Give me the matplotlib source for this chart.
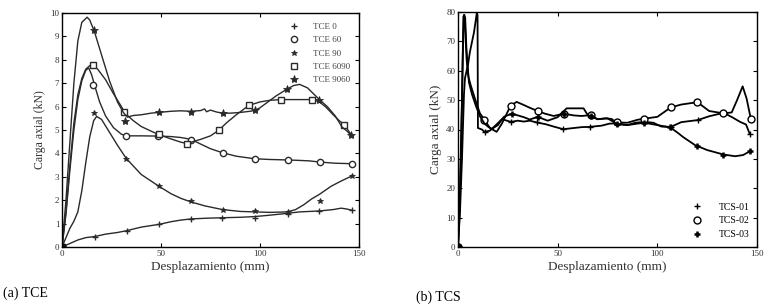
import numpy as np
import matplotlib
matplotlib.use("Agg")
import matplotlib.pyplot as plt
from matplotlib.lines import Line2D

plt.rcParams['font.family'] = ['Liberation Serif', 'DejaVu Serif']

# ---- (a) TCE : curves (x mm, y kN) ----
tce0_x = [0, 4, 8, 12, 16.7, 22, 28, 32.8, 40, 49.2, 55, 60, 65.2, 73, 81, 90, 97.3, 105, 113.9, 120, 130, 137, 141, 144, 146.4]
tce0_y = [0, 0.15, 0.3, 0.4, 0.45, 0.55, 0.62, 0.7, 0.85, 0.97, 1.08, 1.15, 1.2, 1.23, 1.25, 1.27, 1.3, 1.36, 1.44, 1.5, 1.54, 1.6, 1.66, 1.62, 1.57]
tce0_mx = [0, 16.7, 32.8, 49.2, 65.2, 81, 97.3, 113.9, 130, 146.4]
tce0_my = [0, 0.43, 0.67, 0.97, 1.2, 1.25, 1.25, 1.42, 1.54, 1.57]

tce60_x = [0, 2, 4, 6, 8, 10, 12, 13.5, 15, 16.5, 19, 22, 26, 30, 32.4, 40, 48.5, 55, 60, 65.2, 70, 75, 81, 88, 97.5, 105, 113.9, 120, 125, 130.2, 138, 146.5]
tce60_y = [0, 1.4, 3.3, 5.0, 6.3, 7.1, 7.55, 7.65, 7.35, 6.9, 6.2, 5.6, 5.1, 4.82, 4.75, 4.75, 4.74, 4.72, 4.68, 4.6, 4.4, 4.2, 4.03, 3.88, 3.77, 3.74, 3.72, 3.7, 3.68, 3.63, 3.58, 3.56]
tce60_mx = [0, 15.9, 32.4, 48.5, 65.2, 81.4, 97.5, 113.9, 130.2, 146.5]
tce60_my = [0, 6.94, 4.74, 4.74, 4.59, 4.03, 3.77, 3.72, 3.63, 3.56]

tce90_x = [0, 2, 4, 6, 8, 10, 12, 14, 16, 17.5, 20, 24, 28, 32.4, 40, 48.7, 55, 60, 65, 72, 81, 90, 97.5, 105, 113.9, 118, 122, 126, 130, 136, 141, 146.5]
tce90_y = [0, 0.4, 0.8, 1.1, 1.5, 2.4, 3.6, 4.7, 5.4, 5.58, 5.45, 4.9, 4.35, 3.79, 3.1, 2.61, 2.28, 2.08, 1.93, 1.76, 1.6, 1.52, 1.5, 1.48, 1.5, 1.6, 1.8, 2.05, 2.25, 2.6, 2.82, 3.04]
tce90_mx = [0, 16.4, 32.4, 49.2, 65.2, 81.3, 97.5, 113.9, 130.2, 146.5]
tce90_my = [0, 5.74, 3.77, 2.61, 1.95, 1.6, 1.54, 1.51, 1.97, 3.03]

tce6090_x = [0, 2, 4, 6, 8, 10, 12, 14, 15.6, 18, 22, 26, 30, 32, 36, 40, 45, 49, 55, 60, 63.2, 66, 70, 75, 79.2, 83, 88, 94.4, 100, 105, 110.8, 120, 126.5, 130, 133, 137, 140, 142.6, 146]
tce6090_y = [0, 1.5, 3.5, 5.3, 6.5, 7.2, 7.6, 7.75, 7.78, 7.6, 7.15, 6.55, 6.0, 5.7, 5.4, 5.15, 4.95, 4.8, 4.62, 4.48, 4.42, 4.5, 4.6, 4.75, 4.99, 5.3, 5.65, 6.05, 6.2, 6.27, 6.3, 6.3, 6.3, 6.2, 6.0, 5.65, 5.4, 5.23, 4.8]
tce6090_mx = [0, 15.6, 31.4, 48.8, 63.2, 79.2, 94.4, 110.8, 126.5, 142.6]
tce6090_my = [0, 7.76, 5.77, 4.82, 4.42, 4.99, 6.08, 6.3, 6.3, 5.23]

tce9060_x = [0, 2, 4, 6, 8, 10, 12.7, 14, 16.4, 20, 24, 28, 31, 33, 36, 40, 45, 48.8, 55, 60, 65, 70, 72, 73, 75, 78, 81, 85, 90, 95, 97.5, 100, 104, 108, 113.5, 117, 120, 124, 127, 130, 134, 138, 141.4, 144, 146]
tce9060_y = [0, 2, 4.5, 7, 8.8, 9.6, 9.82, 9.7, 9.2, 8.2, 7.1, 6.2, 5.75, 5.55, 5.62, 5.65, 5.72, 5.75, 5.8, 5.82, 5.8, 5.83, 5.9, 5.78, 5.85, 5.77, 5.72, 5.72, 5.75, 5.8, 5.84, 5.95, 6.2, 6.45, 6.74, 6.9, 6.95, 6.8, 6.55, 6.3, 6.0, 5.6, 5.13, 4.95, 4.77]
tce9060_mx = [0, 16.4, 31.9, 48.8, 65.2, 81.3, 97.5, 113.5, 130, 146]
tce9060_my = [0, 9.26, 5.37, 5.77, 5.77, 5.74, 5.84, 6.74, 6.3, 4.77]

# ---- (b) TCS ----
tcs01_x = [0, 1, 2, 3, 3.5, 5, 6, 8, 9.4, 9.8, 10, 12, 13.3, 16, 19, 22, 26.6, 30, 33, 36, 39.5, 44, 48, 52.8, 58, 62, 66.2, 72, 76, 79.6, 85, 89, 93.5, 98, 102, 106.8, 112, 120.2, 126, 133.3, 138, 141.5, 144.5, 146.3]
tcs01_y = [0, 12, 30, 52, 57.5, 62, 66.5, 73, 79.5, 79, 40.5, 40, 39.2, 39.6, 41.5, 43.5, 42.6, 43, 42.7, 43, 42.4, 41.8, 41, 40.1, 40.5, 40.8, 40.9, 41.3, 42, 42.1, 41.5, 42.3, 42.6, 42.3, 41, 40.9, 42.5, 43.2, 44.5, 45.7, 44, 42.6, 41.7, 38.6]
tcs01_mx = [0, 13.3, 26.6, 39.5, 52.8, 66.2, 79.6, 93.5, 106.8, 120.2, 133.3, 146.3]
tcs01_my = [0, 39.2, 42.6, 42.4, 40.1, 40.9, 42.1, 42.6, 40.9, 43.2, 45.7, 38.6]

tcs02_x = [0, 1, 2, 2.7, 3.2, 3.7, 4.3, 5.2, 6.4, 8.5, 11, 13.2, 16, 19.4, 22, 26.4, 29.4, 32.8, 36, 40.3, 43.6, 48, 53, 58, 62, 66.6, 70, 74, 77, 79.6, 85, 90, 93.5, 100, 106.7, 112, 120.1, 126, 133.1, 137.3, 140, 142.8, 144.8, 146.9]
tcs02_y = [0, 20, 50, 78.5, 79, 73, 64, 58, 55, 50.5, 45.5, 43.4, 40.5, 39.2, 42, 48.1, 49.4, 48.4, 47.4, 46.2, 45.4, 44.6, 45.4, 44.8, 44.6, 44.9, 43.5, 43.8, 43.6, 42.4, 42.3, 43.3, 43.7, 44.3, 47.5, 48.5, 49.3, 46.3, 45.5, 45.8, 50, 54.7, 50.5, 43.6]
tcs02_mx = [0, 13.2, 26.4, 40.3, 53, 66.6, 79.6, 93.5, 106.7, 120.1, 133.1, 146.9]
tcs02_my = [0, 43.4, 48.1, 46.2, 45.4, 44.9, 42.4, 43.7, 47.5, 49.3, 45.5, 43.6]

tcs03_x = [0, 0.8, 1.6, 2.4, 3, 3.6, 4.2, 4.8, 5.5, 7, 9, 11, 13.3, 15, 17, 20, 23, 26.9, 30, 33, 36, 40, 45, 50, 54.5, 63, 65, 70, 75, 80, 85, 90, 93.5, 100, 106.5, 110, 113, 118.9, 125, 133.1, 139, 143, 146.5]
tcs03_y = [0, 12, 35, 65, 79, 78, 68, 62, 56, 52, 48, 44.5, 42, 41, 40.2, 41.5, 44.3, 45.4, 44.8, 44.2, 43.4, 44.3, 43, 44.2, 47.2, 47.2, 45, 43.5, 43.8, 41.8, 41.5, 42, 42.3, 41.5, 40.7, 39, 37.4, 34.7, 33, 31.5, 30.9, 31.3, 32.6]
tcs03_mx = [0, 26.9, 40, 53, 66.5, 80, 93.5, 106.5, 120, 133.1, 146.5]
tcs03_my = [0, 45.4, 44.3, 45.2, 44.6, 41.8, 42.3, 40.7, 34.3, 31.3, 32.6]

tce_labels = ['TCE 0', 'TCE 60', 'TCE 90', 'TCE 6090', 'TCE 9060']
tcs_labels = ['TCS-01', 'TCS-02', 'TCS-03']

fig = plt.figure(figsize=(7.76, 3.07), dpi=100)
axA = fig.add_axes([62/776, 1-247/307, 297/776, 234/307])
axB = fig.add_axes([458/776, 1-247/307, 299/776, 235/307])

# marker styles: (marker, size, filled, edge width)
sty_a = [('+', 4, True, 1.0), ('o', 4.5, False, 1.0), ('*', 4, True, 0.6),
         ('s', 5, False, 1.0), ('*', 6, True, 0.6)]
series_a = [(tce0_x, tce0_y, tce0_mx, tce0_my), (tce60_x, tce60_y, tce60_mx, tce60_my),
            (tce90_x, tce90_y, tce90_mx, tce90_my), (tce6090_x, tce6090_y, tce6090_mx, tce6090_my),
            (tce9060_x, tce9060_y, tce9060_mx, tce9060_my)]
lc = '#2a2a2a'
handles = []
for (x, y, mx, my), (m, ms, filled, mew), lab in zip(series_a, sty_a, tce_labels):
    axA.plot(x, y, color=lc, lw=1.0)
    fc = lc if filled else 'white'
    axA.plot(mx, my, ls='None', marker=m, ms=ms, mfc=fc, mec=lc, mew=mew)
    handles.append(Line2D([], [], ls='None', marker=m, ms=ms, mfc=fc, mec=lc, mew=mew, label=lab))
axA.plot([0], [0], ls='None', marker='s', ms=5, color='#111111')

axA.set_xlim(0, 150)
axA.set_ylim(0, 10)
axA.set_xticks([0, 50, 100, 150])
axA.set_yticks(range(0, 11))
leg = axA.legend(handles=handles, loc='upper right', bbox_to_anchor=(0.99, 0.985), frameon=False,
                 fontsize=6.5, handlelength=1.2, handletextpad=1.5, labelspacing=0.55, borderaxespad=0.3)
for t in leg.get_texts():
    t.set_color('#444444')

sty_b = [('+', 5, True, 1.0), ('o', 5, False, 1.0), ('+', 5, True, 1.8)]
series_b = [(tcs01_x, tcs01_y, tcs01_mx, tcs01_my), (tcs02_x, tcs02_y, tcs02_mx, tcs02_my),
            (tcs03_x, tcs03_y, tcs03_mx, tcs03_my)]
handles = []
for (x, y, mx, my), (m, ms, filled, mew), lab in zip(series_b, sty_b, tcs_labels):
    axB.plot(x, y, color='black', lw=1.3)
    fc = 'black' if filled else 'white'
    axB.plot(mx, my, ls='None', marker=m, ms=ms, mfc=fc, mec='black', mew=mew)
    handles.append(Line2D([], [], ls='None', marker=m, ms=ms, mfc=fc, mec='black', mew=mew, label=lab))
axB.plot([0], [0], ls='None', marker='o', ms=5, color='black')

axB.set_xlim(0, 150)
axB.set_ylim(0, 80)
axB.set_xticks([0, 50, 100, 150])
axB.set_yticks(range(0, 81, 10))
axB.legend(handles=handles, loc='lower right', bbox_to_anchor=(1.0, 0.0), frameon=False,
           fontsize=7, handlelength=1.2, handletextpad=1.6, labelspacing=0.5, borderaxespad=0.4)

for ax, ylfs in ((axA, 8.5), (axB, 9.5)):
    ax.tick_params(direction='in', top=True, right=True, length=3, width=0.8,
                   labelsize=6.5, pad=2, labelcolor='#333333')
    for s in ax.spines.values():
        s.set_linewidth(1.0)
    ax.set_xlabel('Desplazamiento (mm)', fontsize=9.5, color='#333333', labelpad=2)
    ax.set_ylabel('Carga axial (kN)', fontsize=ylfs, color='#333333', labelpad=3)

fig.text(3/776, 1-293/307, '(a) TCE', fontsize=10, va='center', ha='left')
fig.text(416/776, 1-297/307, '(b) TCS', fontsize=10, va='center', ha='left')

fig.savefig('out.png', dpi=100)
